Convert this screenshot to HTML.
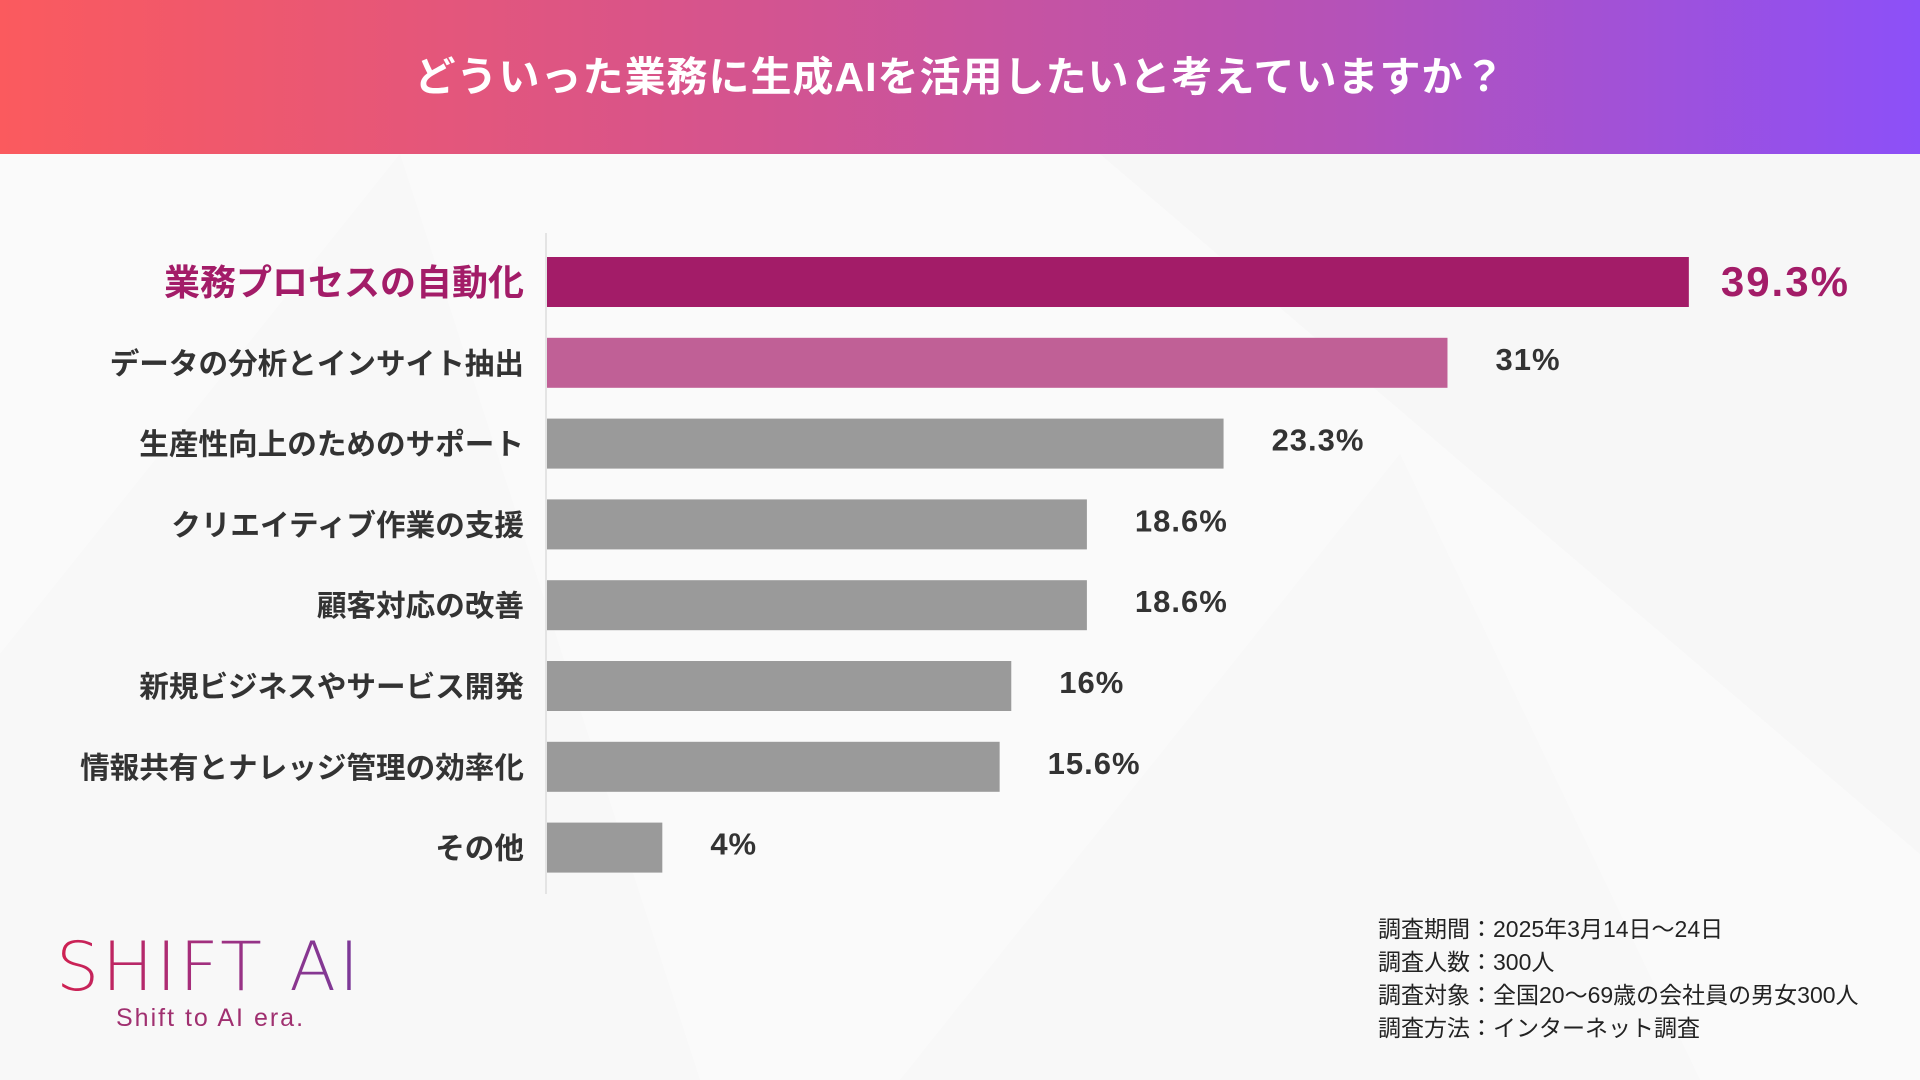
<!DOCTYPE html>
<html><head><meta charset="utf-8"><style>
body{margin:0;width:1920px;height:1080px;overflow:hidden;background:#fafafa;font-family:"Liberation Sans","Noto Sans CJK JP",sans-serif;position:relative}
#hdr{position:absolute;left:0;top:0;width:1920px;height:154px;background:linear-gradient(90deg,#fb5a5e 0%,#d8548a 35%,#b552b8 70%,#8c50f8 100%);color:#fff;font-weight:bold;font-size:41px;text-align:center;line-height:154px;letter-spacing:1px}
#bg{position:absolute;left:0;top:154px}
.note{position:absolute;left:1378px;font-size:23px;color:#222}
</style></head><body>
<svg id="bg" width="1920" height="926">
<polygon points="0,500 400,0 700,926 0,926" fill="#f3f3f3" opacity=".35"/>
<polygon points="1100,0 1920,0 1920,700" fill="#f2f2f2" opacity=".35"/>
<polygon points="900,926 1400,300 1700,926" fill="#f4f4f4" opacity=".35"/>
</svg>
<div id="hdr">どういった業務に生成AIを活用したいと考えていますか？</div>
<svg id="chart" width="1920" height="1080" style="position:absolute;left:0;top:0"></svg>
<div style="position:absolute;left:56px;top:928px;font-size:68px;letter-spacing:3px;background:linear-gradient(90deg,#d02050,#a03080,#7a3a9a);-webkit-background-clip:text;background-clip:text;color:transparent;font-family:'DejaVu Sans','Liberation Sans',sans-serif;font-weight:300">SHIFT AI</div>
<div style="position:absolute;left:116px;top:1004px;font-size:25px;color:#a03070;letter-spacing:2px">Shift to AI era.</div>
<div class="note" style="top:910px">調査期間：2025年3月14日～24日</div>
<div class="note" style="top:943px">調査人数：300人</div>
<div class="note" style="top:976px">調査対象：全国20～69歳の会社員の男女300人</div>
<div class="note" style="top:1009px">調査方法：インターネット調査</div>
<script>
const categories=["業務プロセスの自動化","データの分析とインサイト抽出","生産性向上のためのサポート","クリエイティブ作業の支援","顧客対応の改善","新規ビジネスやサービス開発","情報共有とナレッジ管理の効率化","その他"];
const values=[39.3,31,23.3,18.6,18.6,16,15.6,4];
const valueLabels=["39.3%","31%","23.3%","18.6%","18.6%","16%","15.6%","4%"];
const svg=document.getElementById('chart');
const NS='http://www.w3.org/2000/svg';
const x0=546,pxPer=29.08,y0=282,step=80.8,bh=50;
const xs=v=>x0+v*pxPer, ys=i=>y0+i*step;
function mk(t,a){const e=document.createElementNS(NS,t);for(const k in a)e.setAttribute(k,a[k]);svg.appendChild(e);return e;}
const ax=mk('line',{x1:x0,x2:x0,y1:233,y2:894,stroke:'#ddd','stroke-width':1.5});


const colors=["#a31c68","#c06096"];
values.forEach((v,i)=>{
 const r=mk('rect',{x:x0+1,y:ys(i)-bh/2,width:xs(v)-x0-1,height:bh,fill:colors[i]||'#9a9a9a'});
 
 
 const first=i===0;
 const c=mk('text',{x:524,y:ys(i)+(first?13:11),'text-anchor':'end','font-size':first?36:29.6,'font-weight':'bold',fill:first?'#a31c68':'#333'});
 c.textContent=categories[i];
 
 
 const t=mk('text',{x:xs(v)+(first?32:48),y:ys(i)+(first?14:7),'font-size':first?42:31,'font-weight':'bold',fill:first?'#a31c68':'#333','letter-spacing':first?2:1});
 t.textContent=valueLabels[i];
 
 
});
</script>
</body></html>
